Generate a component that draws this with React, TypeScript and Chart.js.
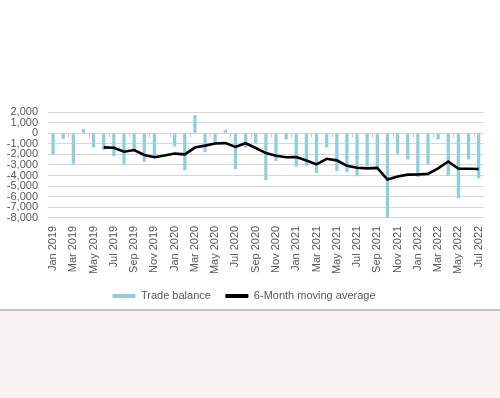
import { useEffect, useRef } from "react";
import { Chart, registerables } from "chart.js";

Chart.register(...registerables);

const months = [
  "Jan 2019", "Feb 2019", "Mar 2019", "Apr 2019", "May 2019", "Jun 2019",
  "Jul 2019", "Aug 2019", "Sep 2019", "Oct 2019", "Nov 2019", "Dec 2019",
  "Jan 2020", "Feb 2020", "Mar 2020", "Apr 2020", "May 2020", "Jun 2020",
  "Jul 2020", "Aug 2020", "Sep 2020", "Oct 2020", "Nov 2020", "Dec 2020",
  "Jan 2021", "Feb 2021", "Mar 2021", "Apr 2021", "May 2021", "Jun 2021",
  "Jul 2021", "Aug 2021", "Sep 2021", "Oct 2021", "Nov 2021", "Dec 2021",
  "Jan 2022", "Feb 2022", "Mar 2022", "Apr 2022", "May 2022", "Jun 2022",
  "Jul 2022",
];

const tradeBalance = [
  -2000, -560, -2900, 400, -1350, -1600,
  -2150, -2900, -1750, -2700, -2300, -100,
  -1270, -3500, 1700, -1790, -880, 300,
  -3400, -1380, -960, -4450, -2640, -600,
  -3150, -3090, -3790, -1330, -3590, -3700,
  -4080, -3150, -3150, -8100, -1940, -2480,
  -4150, -2940, -600, -4030, -6120, -2480,
  -4250,
];

const movingAverage: (number | null)[] = [
  null, null, null, null, null, -1340,
  -1380, -1760, -1600, -2060, -2280, -2120,
  -1930, -2000, -1360, -1180, -970, -940,
  -1300, -950, -1400, -1880, -2130, -2280,
  -2260, -2590, -2950, -2420, -2570, -3090,
  -3270, -3330, -3280, -4380, -4100, -3920,
  -3910, -3850, -3330, -2680, -3360, -3370,
  -3390,
];

const yMin = -8000;
const yMax = 2000;
const yStep = 1000;

const seriesNames = ["Trade balance", "6-Month moving average"];

const textColor = "#595959";
const fontFamily = "'Liberation Sans', Arial, sans-serif";

// small category-axis tick marks on the zero line, every 2 categories
const zeroTicks = {
  id: "zeroTicks",
  beforeDatasetsDraw(chart: any) {
    const x = chart.scales.x;
    const y = chart.scales.y;
    const y0 = Math.round(y.getPixelForValue(0)) + 0.5;
    const n = months.length;
    const cw = (x.right - x.left) / n;
    const ctx = chart.ctx;
    ctx.save();
    ctx.strokeStyle = "#c8c8c8";
    ctx.lineWidth = 1;
    ctx.beginPath();
    for (let k = 2; k < n; k += 2) {
      const px = Math.round(x.left + k * cw) + 0.5;
      ctx.moveTo(px, y0);
      ctx.lineTo(px, y0 + 4);
    }
    ctx.stroke();
    ctx.restore();
  },
};

export default function App() {
  const ref = useRef<HTMLCanvasElement>(null);

  useEffect(() => {
    const canvas = ref.current;
    if (!canvas) return;
    const chart = new Chart(canvas, {
      type: "bar",
      data: {
        labels: months,
        datasets: [
          {
            type: "bar",
            label: seriesNames[0],
            data: tradeBalance,
            backgroundColor: "#8fcde0",
            borderWidth: 0,
            barPercentage: 0.32,
            categoryPercentage: 1,
            order: 1,
          },
          {
            type: "line",
            label: seriesNames[1],
            data: movingAverage,
            borderColor: "#000000",
            backgroundColor: "#000000",
            borderWidth: 2.6,
            pointRadius: 0,
            tension: 0,
            spanGaps: false,
            order: 0,
          },
        ],
      },
      options: {
        responsive: false,
        animation: false,
        devicePixelRatio: 1,
        layout: { padding: { top: 112, left: 0, right: 12, bottom: 86.5 } },
        plugins: {
          tooltip: { enabled: false },
          legend: {
            position: "bottom",
            labels: {
              color: textColor,
              font: { family: fontFamily, size: 11 },
              boxWidth: 23,
              boxHeight: 4,
              padding: 14.5,
              sort: (a: any, b: any) => a.datasetIndex - b.datasetIndex,
              generateLabels: (c: any) => {
                const items = Chart.defaults.plugins.legend.labels.generateLabels(c);
                return items.map((it: any) => {
                  if (it.datasetIndex === 1) {
                    return { ...it, fillStyle: "#000000", strokeStyle: "#000000", lineWidth: 0 };
                  }
                  return { ...it, lineWidth: 0 };
                });
              },
            },
          },
        },
        scales: {
          x: {
            offset: true,
            grid: { display: false, drawTicks: false },
            border: { display: false },
            ticks: {
              autoSkip: false,
              maxRotation: 90,
              minRotation: 90,
              padding: 8,
              color: textColor,
              font: { family: fontFamily, size: 11 },
              callback: (_v: any, i: number) => (i % 2 === 0 ? months[i] : ""),
            },
            afterFit: (scale: any) => {
              scale.height = 58.2;
            },
          },
          y: {
            min: yMin,
            max: yMax,
            grid: { color: "#d6d6d6", lineWidth: 1, drawTicks: false },
            border: { display: false },
            ticks: {
              stepSize: yStep,
              autoSkip: false,
              padding: 10,
              color: textColor,
              font: { family: fontFamily, size: 11 },
              callback: (v: any) => Number(v).toLocaleString("en-US"),
            },
            afterFit: (scale: any) => {
              scale.width = 48;
            },
          },
        },
      },
      plugins: [zeroTicks],
    });
    return () => chart.destroy();
  }, []);

  return (
    <div
      style={{
        position: "fixed",
        left: 0,
        top: 0,
        width: 500,
        height: 398,
        background:
          "linear-gradient(to bottom, #ffffff 0px, #ffffff 309px, #c4c4c4 309px, #c4c4c4 311px, #f8f1f1 311px, #f8f1f1 398px)",
      }}
    >
      <canvas ref={ref} width={500} height={398} style={{ display: "block" }} />
    </div>
  );
}
